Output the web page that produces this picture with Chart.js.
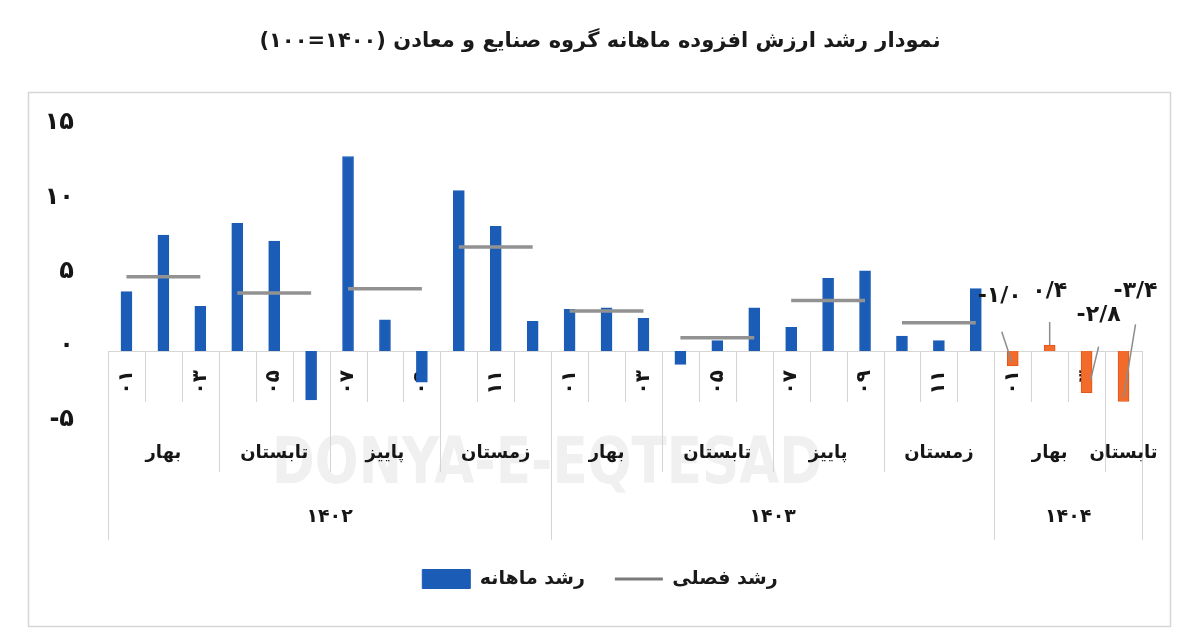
<!DOCTYPE html>
<html>
<head>
<meta charset="utf-8">
<script src="https://cdn.jsdelivr.net/npm/chart.js@4.4.1/dist/chart.umd.min.js"></script>
<style>
  html, body { margin: 0; padding: 0; background: #ffffff; }
  #wrap { width: 1200px; height: 633px; }
</style>
</head>
<body>
<div id="wrap"><canvas id="c" width="1200" height="633"></canvas></div>
<script>
// ---------------- data ----------------
const chartTitle = 'نمودار رشد ارزش افزوده ماهانه گروه صنایع و معادن (۱۴۰۰=۱۰۰)';
const monthLabels = ['۰۱','۰۲','۰۳','۰۴','۰۵','۰۶','۰۷','۰۸','۰۹','۱۰','۱۱','۱۲',
                     '۰۱','۰۲','۰۳','۰۴','۰۵','۰۶','۰۷','۰۸','۰۹','۱۰','۱۱','۱۲',
                     '۰۱','۰۲','۰۳','۰۴'];
const monthlyGrowth = [4.0, 7.8, 3.0, 8.6, 7.4, -3.3, 13.1, 2.1, -2.1, 10.8, 8.4, 2.0,
                       2.8, 2.9, 2.2, -0.9, 0.7, 2.9, 1.6, 4.9, 5.4, 1.0, 0.7, 4.2,
                       -1.0, 0.4, -2.8, -3.4];
const seasonNames = ['بهار','تابستان','پاییز','زمستان','بهار','تابستان','پاییز','زمستان','بهار','تابستان'];
const seasonMonths = [3, 3, 3, 3, 3, 3, 3, 3, 3, 1];
const seasonalGrowth = [5.0, 3.9, 4.2, 7.0, 2.7, 0.9, 3.4, 1.9, null, null];
const yearNames = ['۱۴۰۲', '۱۴۰۳', '۱۴۰۴'];
const yearMonths = [12, 12, 4];
const highlightFrom = 24;            // months of 1404 shown in orange with value labels
const seriesNames = ['رشد ماهانه', 'رشد فصلی'];
const watermarkText = 'DONYA-E-EQTESAD';

// ---------------- styles ----------------
const FONT = '"DejaVu Sans", sans-serif';
const BLUE = '#1b5cb7';
const ORANGE = '#f26b2b';
const ORANGE_EDGE = '#e2561a';
const GRAY_LINE = '#929292';
const TABLE_LINE = '#d4d4d4';
const TEXT = '#161616';
const calloutStyle = {
  24: { label: [-13, -70], from: [-11, -34], to: [-1, -4] },
  25: { label: [0, -54],   from: [0, -23],   to: [0, 0] },
  26: { label: [12, -77],  from: [12, -46],  to: [4, -13] },
  27: { label: [12, -110], from: [12, -77],  to: [0, -4] }
};
const ROW1 = 51, ROW2 = 121, ROW3 = 189;      // table row bottoms below zero line
const SEASON_Y = 102, YEAR_Y = 166;          // label centres below zero line

const fa = s => String(s).replace(/[0-9]/g, d => '۰۱۲۳۴۵۶۷۸۹'[+d]).replace('.', '/');

// derived tables built from the named arrays
const seasonOfMonth = [];
seasonMonths.forEach((n, s) => { for (let k = 0; k < n; k++) seasonOfMonth.push(s); });
const seasonalLine = seasonOfMonth.map(s => seasonalGrowth[s]);
const barFill = monthlyGrowth.map((v, i) => i >= highlightFrom ? ORANGE : BLUE);
const barEdge = monthlyGrowth.map((v, i) => i >= highlightFrom ? ORANGE_EDGE : BLUE);

Chart.defaults.font.family = FONT;
Chart.defaults.color = TEXT;

const tablePlugin = {
  id: 'tablePlugin',
  beforeDraw(chart) {
    const ctx = chart.ctx;
    ctx.save();
    ctx.fillStyle = '#ffffff';
    ctx.fillRect(0, 0, chart.width, chart.height);
    ctx.strokeStyle = '#d6d6d6';
    ctx.lineWidth = 1.5;
    ctx.strokeRect(28.5, 92.5, 1142, 534);
    ctx.restore();
  },
  beforeDatasetsDraw(chart) {
    const { ctx, scales: { x, y } } = chart;
    const y0 = y.getPixelForValue(0);
    const half = (x.getPixelForValue(1) - x.getPixelForValue(0)) / 2;
    ctx.save();
    // faint watermark
    ctx.font = 'bold 64px ' + FONT;
    ctx.fillStyle = '#f0f0f0';
    ctx.textAlign = 'center';
    ctx.textBaseline = 'middle';
    const w = ctx.measureText(watermarkText).width;
    ctx.translate(547, 466);
    ctx.scale(550 / w, 1);
    ctx.fillText(watermarkText, 0, 0);
    ctx.setTransform(1, 0, 0, 1, 0, 0);

    // boundaries
    const seasonStart = new Set(); let acc = 0;
    seasonMonths.forEach(n => { seasonStart.add(acc); acc += n; }); seasonStart.add(acc);
    const yearStart = new Set(); acc = 0;
    yearMonths.forEach(n => { yearStart.add(acc); acc += n; }); yearStart.add(acc);
    ctx.strokeStyle = TABLE_LINE;
    ctx.lineWidth = 1;
    for (let i = 0; i <= monthLabels.length; i++) {
      const bx = Math.round(x.getPixelForValue(i) - half) + 0.5;
      const depth = yearStart.has(i) ? ROW3 : (seasonStart.has(i) ? ROW2 : ROW1);
      ctx.beginPath();
      ctx.moveTo(bx, y0);
      ctx.lineTo(bx, y0 + depth);
      ctx.stroke();
    }
    // season labels
    ctx.fillStyle = TEXT;
    ctx.font = 'bold 18px ' + FONT;
    acc = 0;
    seasonNames.forEach((name, s) => {
      const n = seasonMonths[s];
      const cx = (x.getPixelForValue(acc) + x.getPixelForValue(acc + n - 1)) / 2;
      ctx.fillText(name, cx, y0 + SEASON_Y);
      acc += n;
    });
    // year labels
    ctx.font = 'bold 19px ' + FONT;
    acc = 0;
    yearNames.forEach((name, k) => {
      const n = yearMonths[k];
      const cx = (x.getPixelForValue(acc) + x.getPixelForValue(acc + n - 1)) / 2;
      ctx.fillText(name, cx, y0 + YEAR_Y);
      acc += n;
    });
    ctx.restore();
  },
  afterDatasetsDraw(chart) {
    const { ctx, scales: { x, y } } = chart;
    ctx.save();
    ctx.font = 'bold 22px ' + FONT;
    ctx.fillStyle = TEXT;
    ctx.textAlign = 'center';
    ctx.textBaseline = 'middle';
    Object.keys(calloutStyle).forEach(k => {
      const i = +k;
      const st = calloutStyle[k];
      const bx = x.getPixelForValue(i);
      const by = y.getPixelForValue(monthlyGrowth[i]);
      ctx.strokeStyle = '#8c8c8c';
      ctx.lineWidth = 1.5;
      ctx.beginPath();
      ctx.moveTo(bx + st.from[0], by + st.from[1]);
      ctx.lineTo(bx + st.to[0], by + st.to[1]);
      ctx.stroke();
      ctx.fillText(fa(monthlyGrowth[i].toFixed(1)), bx + st.label[0], by + st.label[1]);
    });
    ctx.restore();
  }
};

new Chart(document.getElementById('c'), {
  data: {
    labels: monthLabels,
    datasets: [
      {
        type: 'bar',
        label: seriesNames[0],
        data: monthlyGrowth,
        backgroundColor: barFill,
        borderColor: barEdge,
        borderWidth: 1,
        barThickness: 11,
        pointStyle: 'rect',
        xAxisID: 'x', yAxisID: 'y',
        order: 2
      },
      {
        type: 'line',
        label: seriesNames[1],
        data: seasonalLine,
        borderColor: GRAY_LINE,
        backgroundColor: GRAY_LINE,
        borderWidth: 3.5,
        pointRadius: 0,
        pointHoverRadius: 0,
        pointStyle: 'line',
        pointBorderColor: '#7a7a7a',
        pointBorderWidth: 3,
        spanGaps: false,
        segment: {
          borderColor: c => seasonOfMonth[c.p0DataIndex] === seasonOfMonth[c.p1DataIndex] ? GRAY_LINE : 'rgba(0,0,0,0)'
        },
        xAxisID: 'x', yAxisID: 'y',
        order: 1
      }
    ]
  },
  options: {
    responsive: false,
    animation: false,
    events: [],
    layout: { padding: { left: 0, right: 0, top: 0, bottom: 34.5 } },
    scales: {
      x: {
        type: 'category',
        position: { y: 0 },
        z: 1,
        offset: true,
        grid: { display: false, drawTicks: false },
        border: { display: true, color: '#d6d6d6', width: 1 },
        ticks: {
          autoSkip: false,
          minRotation: 90,
          maxRotation: 90,
          padding: 19,
          color: TEXT,
          font: { size: 20, weight: 'bold' },
          callback: (v, i) => (i % 2 === 0 ? monthLabels[i] : '')
        }
      },
      xPad: {
        type: 'category',
        axis: 'x',
        position: 'bottom',
        display: true,
        grid: { display: false },
        border: { display: false },
        ticks: { display: false },
        afterFit: s => { s.height = 114.25; }
      },
      y: {
        type: 'linear',
        position: 'left',
        min: -5,
        max: 15,
        grid: { display: false, drawTicks: false },
        border: { display: false },
        ticks: {
          stepSize: 5,
          padding: 34,
          labelOffset: -5,
          color: TEXT,
          font: { size: 24, weight: 'bold' },
          callback: v => fa(v)
        },
        afterFit: s => { s.width = 108; }
      },
      yPad: {
        type: 'linear',
        axis: 'y',
        position: 'right',
        display: true,
        grid: { display: false },
        border: { display: false },
        ticks: { display: false },
        afterFit: s => { s.width = 58; }
      }
    },
    plugins: {
      title: {
        display: true,
        text: '\u202B' + chartTitle + '\u202C',
        color: '#1a1a1a',
        font: { size: 21, weight: 'bold' },
        padding: { top: 29.4, bottom: 73.65 }
      },
      legend: {
        display: true,
        position: 'bottom',
        labels: {
          usePointStyle: true,
          pointStyleWidth: 48,
          boxHeight: 19,
          padding: 30,
          color: '#1a1a1a',
          font: { size: 19, weight: 'bold' },
          sort: (a, b) => a.datasetIndex - b.datasetIndex
        }
      },
      tooltip: { enabled: false }
    }
  },
  plugins: [tablePlugin]
});
</script>
</body>
</html>
